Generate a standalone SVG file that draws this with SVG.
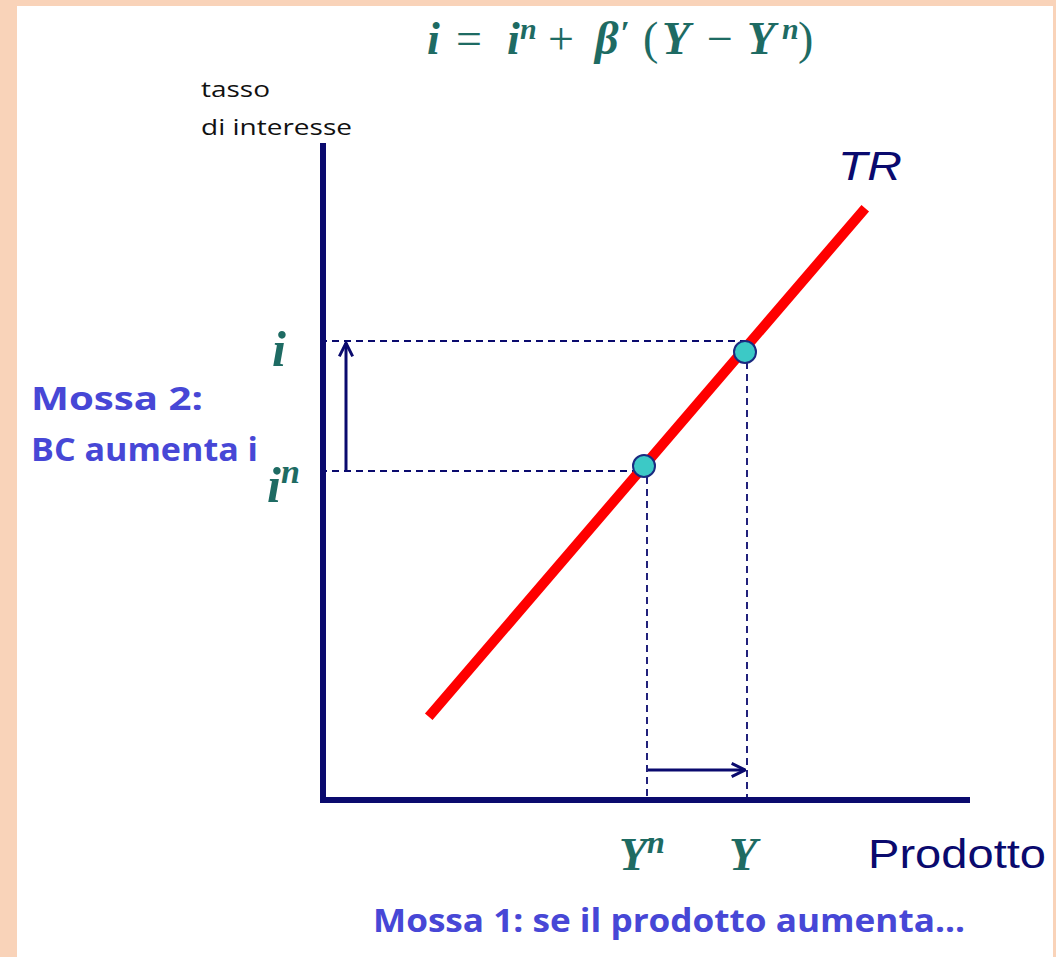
<svg xmlns="http://www.w3.org/2000/svg" width="1056" height="957" viewBox="0 0 1056 957">
<defs>
<style>
.math{font-family:"Liberation Serif","DejaVu Serif",serif;font-weight:bold;font-style:italic;fill:#1E6B63}
.up{font-family:"Liberation Serif","DejaVu Serif",serif;font-weight:normal;font-style:normal;fill:#1E6B63}
.blue{font-family:"Open Sans","Liberation Sans",sans-serif;font-weight:bold;fill:#4747D6;font-size:32px}
.small{font-family:"Open Sans","Liberation Sans",sans-serif;fill:#111;font-size:22px}
.navy{font-family:"Liberation Sans",Arial,sans-serif;fill:#0A0A6E}
.dash{stroke:#0A0A6E;stroke-width:1.8;stroke-dasharray:7 5;fill:none}
.arrow{stroke:#0A0A6E;stroke-width:3;fill:none}
.pt{fill:#3CC9C6;stroke:#1A2A80;stroke-width:2}
</style>
<marker id="chev" viewBox="0 0 12 12" refX="11" refY="6" markerUnits="userSpaceOnUse" markerWidth="16" markerHeight="16" orient="auto">
<path d="M1,1 L11,6 L1,11" fill="none" stroke="#0A0A6E" stroke-width="2.2"/>
</marker>
</defs>
<rect x="0" y="0" width="1056" height="957" fill="#F9D3B9"/>
<rect x="17" y="6" width="1036" height="951" fill="#FFFFFF"/>

<g id="formula">
<text class="math" font-size="46"><tspan x="427" y="54">i</tspan><tspan class="up" x="456" y="54">=</tspan><tspan x="507" y="54">i</tspan><tspan x="520" y="39" font-size="30">n</tspan><tspan class="up" x="548" y="54">+</tspan><tspan x="595" y="54">β</tspan><tspan x="620" y="44" font-size="34">′</tspan><tspan class="up" x="643" y="54">(</tspan><tspan x="662" y="54">Y</tspan><tspan class="up" x="707" y="54">−</tspan><tspan x="747" y="54">Y</tspan><tspan x="782" y="39" font-size="30">n</tspan><tspan class="up" x="798" y="54">)</tspan></text>
</g>

<g id="y-axis-label">
<text class="small" x="201" y="97" textLength="69" lengthAdjust="spacingAndGlyphs">tasso</text>
<text class="small" x="201" y="135" textLength="151" lengthAdjust="spacingAndGlyphs">di interesse</text>
</g>

<g id="axes">
<path d="M323,143 L323,800 L970,800" fill="none" stroke="#0A0A6E" stroke-width="6" stroke-linejoin="miter"/>
</g>

<g id="connectors">
<line class="dash" x1="320" y1="341" x2="745" y2="341"/>
<line class="dash" x1="320" y1="471" x2="642" y2="471"/>
<line class="dash" x1="747" y1="362" x2="747" y2="800"/>
<line class="dash" x1="647" y1="477" x2="647" y2="800"/>
<line class="arrow" x1="346" y1="471" x2="346" y2="343" marker-end="url(#chev)"/>
<line class="arrow" x1="648" y1="770" x2="745" y2="770" marker-end="url(#chev)"/>
</g>

<g id="tr-line">
<line x1="432" y1="713" x2="862" y2="212" stroke="#FF0000" stroke-width="10" stroke-linecap="square"/>
<text class="navy" x="838" y="180" font-size="40" font-style="italic" textLength="64" lengthAdjust="spacingAndGlyphs">TR</text>
</g>

<g id="point-new">
<circle class="pt" cx="745" cy="352" r="11"/>
</g>
<g id="point-natural">
<circle class="pt" cx="644" cy="466" r="11"/>
</g>

<g id="label-i">
<text class="math" x="272" y="366" font-size="50">i</text>
</g>
<g id="label-in">
<text class="math" x="267" y="502" font-size="50">i<tspan font-size="34" dy="-19">n</tspan></text>
</g>
<g id="label-Yn">
<text class="math" x="619" y="870" font-size="46">Y<tspan font-size="32" dy="-17">n</tspan></text>
</g>
<g id="label-Y">
<text class="math" x="729" y="870" font-size="46">Y</text>
</g>
<g id="label-prodotto">
<text class="navy" x="868" y="868" font-size="40" textLength="178" lengthAdjust="spacingAndGlyphs">Prodotto</text>
</g>

<g id="mossa2">
<text class="blue" x="31" y="410" textLength="172" lengthAdjust="spacingAndGlyphs">Mossa 2:</text>
<text class="blue" x="31" y="461" textLength="227" lengthAdjust="spacingAndGlyphs">BC aumenta i</text>
</g>
<g id="mossa1">
<text class="blue" x="373" y="932" textLength="592" lengthAdjust="spacingAndGlyphs">Mossa 1: se il prodotto aumenta...</text>
</g>
</svg>
